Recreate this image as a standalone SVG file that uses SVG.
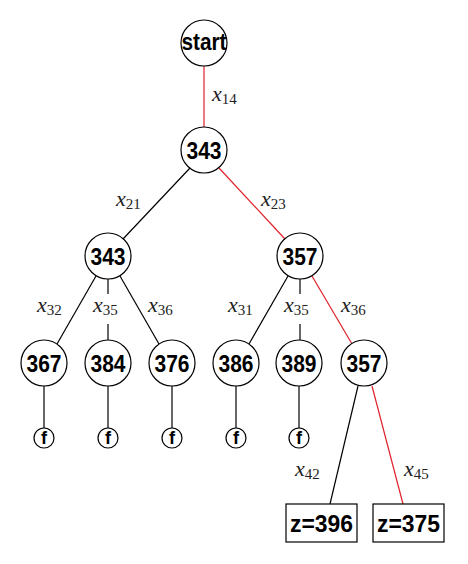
<svg xmlns="http://www.w3.org/2000/svg" width="468" height="564" viewBox="0 0 468 564">
<style>
.n{fill:#fff;stroke:#000;stroke-width:1.2}
.t{font-family:"Liberation Sans",Arial,sans-serif;font-weight:bold;font-size:24px;text-anchor:middle}
.ft{font-family:"Liberation Sans",Arial,sans-serif;font-weight:bold;font-size:18px;text-anchor:middle}
.e{stroke:#000;stroke-width:1.2;fill:none}
.r{stroke:#e0202a;stroke-width:1.2;fill:none}
.l{font-family:"Liberation Serif","Times New Roman",serif;font-size:22px;fill:#222}
.l tspan.v{font-style:italic}
.l tspan.s{font-style:normal;font-size:15px}
</style>
<rect width="468" height="564" fill="#fff"/>
<g id="connectors">
<line class="r" x1="204" y1="66" x2="204" y2="127"/>
<line class="e" x1="190" y1="168" x2="123" y2="239"/>
<line class="r" x1="219" y1="168" x2="285" y2="239"/>
<line class="e" x1="96" y1="276" x2="57" y2="344"/>
<line class="e" x1="108" y1="279" x2="108" y2="294"/>
<line class="e" x1="108" y1="324" x2="108" y2="340"/>
<line class="e" x1="120" y1="276" x2="159" y2="344"/>
<line class="e" x1="288" y1="276" x2="249" y2="344"/>
<line class="e" x1="300" y1="279" x2="300" y2="294"/>
<line class="e" x1="300" y1="324" x2="300" y2="340"/>
<line class="r" x1="312" y1="276" x2="352" y2="344"/>
<line class="e" x1="358" y1="386" x2="330" y2="504"/>
<line class="r" x1="372" y1="386" x2="403" y2="504"/>
<line class="e" x1="44" y1="386" x2="44" y2="428"/>
<line class="e" x1="108" y1="386" x2="108" y2="428"/>
<line class="e" x1="172" y1="386" x2="172" y2="428"/>
<line class="e" x1="236" y1="386" x2="236" y2="428"/>
<line class="e" x1="299" y1="386" x2="299" y2="428"/>
</g>
<g id="labels">
<text class="l" x="212" y="101"><tspan class="v">x</tspan><tspan class="s" dy="3">14</tspan></text>
<text class="l" x="116" y="206"><tspan class="v">x</tspan><tspan class="s" dy="3">21</tspan></text>
<text class="l" x="261" y="206"><tspan class="v">x</tspan><tspan class="s" dy="3">23</tspan></text>
<text class="l" x="37" y="312"><tspan class="v">x</tspan><tspan class="s" dy="3">32</tspan></text>
<text class="l" x="93" y="312"><tspan class="v">x</tspan><tspan class="s" dy="3">35</tspan></text>
<text class="l" x="148" y="312"><tspan class="v">x</tspan><tspan class="s" dy="3">36</tspan></text>
<text class="l" x="228" y="312"><tspan class="v">x</tspan><tspan class="s" dy="3">31</tspan></text>
<text class="l" x="284" y="312"><tspan class="v">x</tspan><tspan class="s" dy="3">35</tspan></text>
<text class="l" x="341" y="312"><tspan class="v">x</tspan><tspan class="s" dy="3">36</tspan></text>
<text class="l" x="295" y="476"><tspan class="v">x</tspan><tspan class="s" dy="3">42</tspan></text>
<text class="l" x="404" y="476"><tspan class="v">x</tspan><tspan class="s" dy="3">45</tspan></text>
</g>
<g id="start"><circle class="n" cx="204" cy="43" r="23"/><text class="t" x="204" y="50" font-size="21" textLength="45" lengthAdjust="spacingAndGlyphs">start</text></g>
<g id="n343a"><circle class="n" cx="204" cy="150" r="23"/><text class="t" x="204" y="159" textLength="35" lengthAdjust="spacingAndGlyphs">343</text></g>
<g id="n343b"><circle class="n" cx="108" cy="256" r="23"/><text class="t" x="108" y="265" textLength="35" lengthAdjust="spacingAndGlyphs">343</text></g>
<g id="n357a"><circle class="n" cx="300" cy="256" r="23"/><text class="t" x="300" y="265" textLength="35" lengthAdjust="spacingAndGlyphs">357</text></g>
<g id="n367"><circle class="n" cx="44" cy="363" r="23"/><text class="t" x="44" y="372" textLength="35" lengthAdjust="spacingAndGlyphs">367</text></g>
<g id="n384"><circle class="n" cx="108" cy="363" r="23"/><text class="t" x="108" y="372" textLength="35" lengthAdjust="spacingAndGlyphs">384</text></g>
<g id="n376"><circle class="n" cx="172" cy="363" r="23"/><text class="t" x="172" y="372" textLength="35" lengthAdjust="spacingAndGlyphs">376</text></g>
<g id="n386"><circle class="n" cx="236" cy="363" r="23"/><text class="t" x="236" y="372" textLength="35" lengthAdjust="spacingAndGlyphs">386</text></g>
<g id="n389"><circle class="n" cx="299" cy="363" r="23"/><text class="t" x="299" y="372" textLength="35" lengthAdjust="spacingAndGlyphs">389</text></g>
<g id="n357b"><circle class="n" cx="364" cy="363" r="23"/><text class="t" x="364" y="372" textLength="35" lengthAdjust="spacingAndGlyphs">357</text></g>
<g id="f1"><circle class="n" cx="44" cy="438" r="10"/><text class="ft" x="44" y="444">f</text></g>
<g id="f2"><circle class="n" cx="108" cy="438" r="10"/><text class="ft" x="108" y="444">f</text></g>
<g id="f3"><circle class="n" cx="172" cy="438" r="10"/><text class="ft" x="172" y="444">f</text></g>
<g id="f4"><circle class="n" cx="236" cy="438" r="10"/><text class="ft" x="236" y="444">f</text></g>
<g id="f5"><circle class="n" cx="299" cy="438" r="10"/><text class="ft" x="299" y="444">f</text></g>
<g id="z396"><rect class="n" x="286" y="504" width="71" height="38"/><text class="t" x="321.5" y="532" font-size="25" textLength="63" lengthAdjust="spacingAndGlyphs">z=396</text></g>
<g id="z375"><rect class="n" x="373" y="504" width="71" height="38"/><text class="t" x="408.5" y="532" font-size="25" textLength="63" lengthAdjust="spacingAndGlyphs">z=375</text></g>
</svg>
